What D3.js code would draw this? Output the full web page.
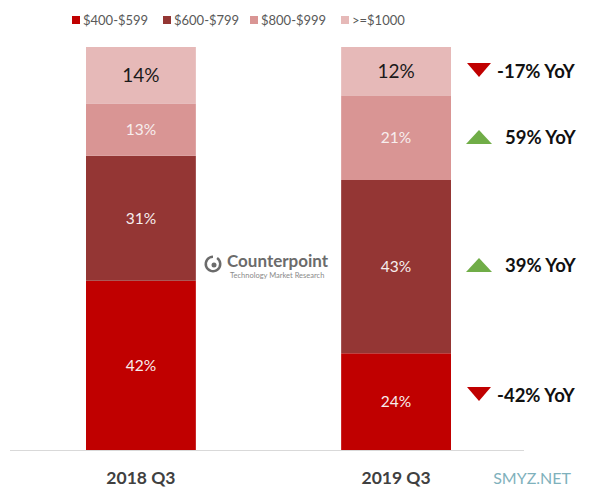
<!DOCTYPE html>
<html><head><meta charset="utf-8">
<script src="https://cdnjs.cloudflare.com/ajax/libs/d3/7.8.5/d3.min.js"></script>
<style>body{margin:0;background:#fff}svg{display:block}</style>
</head><body>
<script>
const categories = ["2018 Q3", "2019 Q3"];
const seriesNames = ["$400-$599", "$600-$799", "$800-$999", ">=$1000"];
const values400 = [42, 24];
const values600 = [31, 43];
const values800 = [13, 21];
const values1000 = [14, 12];
const yoyLabels = ["-42% YoY", "39% YoY", "59% YoY", "-17% YoY"];
const yoyDir = [-1, 1, 1, -1];

const W = 600, H = 497;
const colors = ["#C00000", "#943634", "#D99594", "#E6B9B8"];
const font = "Lato, 'Open Sans', sans-serif";

const svg = d3.select("body").append("svg").attr("width", W).attr("height", H);

const rows = categories.map((c, i) => ({
  cat: c, s0: values400[i], s1: values600[i], s2: values800[i], s3: values1000[i]
}));
const keys = ["s0", "s1", "s2", "s3"];
const stack = d3.stack().keys(keys)(rows);

const x = d3.scaleBand().domain(categories).range([86, 451]).paddingInner(0.5695).paddingOuter(0);
const y = d3.scaleLinear().domain([0, 100]).range([450, 47]);

// axis line
svg.append("line").attr("x1", 10).attr("x2", 524).attr("y1", y(0) + 0.5).attr("y2", y(0) + 0.5)
  .attr("stroke", "#d9d9d9").attr("stroke-width", 1);

// bars
stack.forEach((layer, li) => {
  const g = svg.append("g");
  g.selectAll("rect").data(layer).join("rect")
    .attr("x", d => x(d.data.cat))
    .attr("width", x.bandwidth())
    .attr("y", d => y(d[1]))
    .attr("height", d => y(d[0]) - y(d[1]))
    .attr("fill", colors[li]);
  g.selectAll("text").data(layer).join("text")
    .attr("x", d => x(d.data.cat) + x.bandwidth() / 2)
    .attr("y", d => (y(d[0]) + y(d[1])) / 2)
    .attr("dy", "0.36em")
    .attr("text-anchor", "middle")
    .attr("font-family", font)
    .attr("font-size", li === 3 ? 19 : 15.5)
    .attr("fill", li === 3 ? "#1a1a1a" : "#f7eeee")
    .text(d => (d[1] - d[0]) + "%");
});

// category labels
svg.append("g").selectAll("text").data(categories).join("text")
  .attr("x", d => x(d) + x.bandwidth() / 2)
  .attr("y", 484)
  .attr("text-anchor", "middle")
  .attr("font-family", font)
  .attr("font-weight", "bold")
  .attr("font-size", 17.5)
  .attr("fill", "#404040")
  .text(d => d);

// legend
const legX = [72, 163, 250, 341];
const leg = svg.append("g");
seriesNames.forEach((n, i) => {
  leg.append("rect").attr("x", legX[i]).attr("y", 16).attr("width", 8).attr("height", 8).attr("fill", colors[i]);
  leg.append("text").attr("x", legX[i] + 11).attr("y", 25)
    .attr("font-family", font).attr("font-size", 13).attr("fill", "#595959").text(n);
});

// YoY annotations
stack.forEach((layer, li) => {
  const ay = [395, 265, 137, 71][li];
  const g = svg.append("g");
  const tx = 479, up = yoyDir[li] > 0;
  if (up) {
    g.append("path").attr("d", `M${tx - 13},${ay + 7} L${tx + 13},${ay + 7} L${tx},${ay - 7} Z`).attr("fill", "#70AD47");
  } else {
    g.append("path").attr("d", `M${tx - 12},${ay - 8} L${tx + 12},${ay - 8} L${tx},${ay + 6} Z`).attr("fill", "#C00000");
  }
  g.append("text").attr("x", up ? 505 : 497).attr("y", ay).attr("dy", "0.36em")
    .attr("font-family", font).attr("font-weight", "bold").attr("font-size", 18.5)
    .attr("fill", "#111").text(yoyLabels[li]);
});

// Counterpoint watermark
const wm = svg.append("g");
wm.append("path").attr("d", d3.arc()({innerRadius: 6, outerRadius: 8.5, startAngle: 0.6, endAngle: 2 * Math.PI}))
  .attr("transform", "translate(213,264)").attr("fill", "#6b6b6b");
wm.append("circle").attr("cx", 214).attr("cy", 265).attr("r", 2.5).attr("fill", "#6b6b6b");
wm.append("text").attr("x", 227).attr("y", 267).attr("font-family", font).attr("font-weight", "bold")
  .attr("font-size", 17).attr("fill", "#6b6b6b").text("Counterpoint");
wm.append("text").attr("x", 230).attr("y", 278).attr("font-family", font)
  .attr("font-size", 7.5).attr("fill", "#8a8a8a").text("Technology Market Research");

svg.append("text").attr("x", 571).attr("y", 484).attr("text-anchor", "end")
  .attr("font-family", font).attr("font-size", 16).attr("fill", "#7fb1bc").text("SMYZ.NET");
</script>
</body></html>
